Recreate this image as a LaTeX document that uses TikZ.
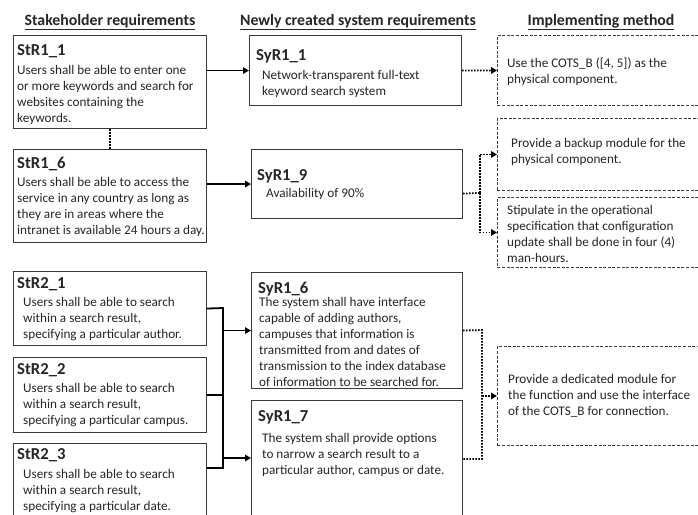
\documentclass[tikz,border=0pt]{standalone}
\usepackage{fontspec}
\setmainfont{Carlito}
\usetikzlibrary{arrows.meta,calc}
\definecolor{ink}{HTML}{262626}
\definecolor{edge}{HTML}{3A3A3A}
\begin{document}
\begin{tikzpicture}[x=1pt,y=-1pt,
  box/.style={draw=edge,line width=1.1pt,anchor=north west,inner sep=0pt},
  planbox/.style={draw=edge,line width=0.9pt,dash pattern=on 3pt off 1.6pt,anchor=north west,inner sep=0pt},
  head/.style={anchor=base,inner sep=0pt,text=ink,font=\fontsize{15.8}{18}\selectfont\bfseries},
  title/.style={anchor=base west,inner sep=0pt,text=ink,font=\fontsize{16.7}{19}\selectfont\bfseries},
  % multi-line text is placed by the baseline of its last line
  body/.style={anchor=base west,inner sep=0pt,align=left,text=ink,font=\fontsize{13.2}{16}\selectfont},
  conn/.style={draw=black,line width=1.8pt},
  arr/.style={conn,-{Triangle[length=6pt,width=6.5pt]}},
  dotted line/.style={draw=black,line width=1.8pt,dash pattern=on 1.6pt off 1.4pt},
  dotarr/.style={dotted line,-{Triangle[length=6pt,width=6.5pt]}}]
\clip (0,0) rectangle (698,514);
\fill[white] (0,0) rectangle (698,514);

% column headings
\node[head] (h1) at (110,25) {\underline{Stakeholder requirements}};
\node[head] (h2) at (358,25) {\underline{Newly created system requirements}};
\node[head] (h3) at (601,25) {\underline{Implementing method}};

% stakeholder requirements
\node[box,minimum width=193pt,minimum height=93pt] (str11) at (13,35) {};
\node[title] (str11t) at (17,55) {StR1\_1};
\node[body] (str11b) at (17,122) {Users shall be able to enter one\\or more keywords and search for\\websites containing the\\keywords.};

\node[box,minimum width=193pt,minimum height=93pt] (str16) at (13,149) {};
\node[title] (str16t) at (17,168) {StR1\_6};
\node[body] (str16b) at (17,234) {Users shall be able to access the\\service in any country as long as\\they are in areas where the\\intranet is available 24 hours a day.};

\node[box,minimum width=193pt,minimum height=74pt] (str21) at (13,271) {};
\node[title] (str21t) at (17,288) {StR2\_1};
\node[body] (str21b) at (23,338) {Users shall be able to search\\within a search result,\\specifying a particular author.};

\node[box,minimum width=193pt,minimum height=75pt] (str22) at (13,357) {};
\node[title] (str22t) at (17,374) {StR2\_2};
\node[body] (str22b) at (23,424) {Users shall be able to search\\within a search result,\\specifying a particular campus.};

\node[box,minimum width=193pt,minimum height=90pt] (str23) at (13,443) {};
\node[title] (str23t) at (17,459) {StR2\_3};
\node[body] (str23b) at (23,510) {Users shall be able to search\\within a search result,\\specifying a particular date.};

% system requirements
\node[box,minimum width=212pt,minimum height=70pt] (syr11) at (249,35) {};
\node[title] (syr11t) at (256,60) {SyR1\_1};
\node[body] (syr11b) at (262,95) {Network-transparent full-text\\keyword search system};

\node[box,minimum width=211pt,minimum height=69pt] (syr19) at (251,149) {};
\node[title] (syr19t) at (257,180) {SyR1\_9};
\node[body] (syr19b) at (266,197) {Availability of 90\%};

\node[box,minimum width=211pt,minimum height=116pt] (syr16) at (251,272) {};
\node[title] (syr16t) at (258,293) {SyR1\_6};
\node[body] (syr16b) at (259,386) {The system shall have interface\\capable of adding authors,\\campuses that information is\\transmitted from and dates of\\transmission to the index database\\of information to be searched for.};

\node[box,minimum width=211pt,minimum height=130pt] (syr17) at (251,400) {};
\node[title] (syr17t) at (258,421) {SyR1\_7};
\node[body] (syr17b) at (262,474) {The system shall provide options\\to narrow a search result to a\\particular author, campus or date.};

% implementing methods
\node[planbox,minimum width=215pt,minimum height=70pt] (im1) at (497,35) {};
\node[body] (im1b) at (507,83) {Use the COTS\_B ([4, 5]) as the\\physical component.};

\node[planbox,minimum width=215pt,minimum height=72pt] (im2) at (497,118) {};
\node[body] (im2b) at (511,163) {Provide a backup module for the\\physical component.};

\node[planbox,minimum width=215pt,minimum height=70pt] (im3) at (497,197) {};
\node[body] (im3b) at (507,262) {Stipulate in the operational\\specification that configuration\\update shall be done in four (4)\\man-hours.};

\node[planbox,minimum width=215pt,minimum height=99pt] (im4) at (497,346) {};
\node[body] (im4b) at (508,415) {Provide a dedicated module for\\the function and use the interface\\of the COTS\_B for connection.};

% stakeholder to system requirement links
\draw[dotted line] (str11.south) -- (str16.north);
\draw[arr] (str11.east |- syr11.west) -- (syr11.west);
\draw[arr] (str16.east |- syr19.west) -- (syr19.west);

\coordinate (b1) at (223,308);
\coordinate (b3) at (223,468);
\draw[conn,line join=miter] (str21.east) -- (b1) -- (b3) -- ($(str23.north east)+(0,25)$);
\draw[conn] (str22.east) -- (str22.east -| b1);
\draw[arr] (syr16.west -| b1) -- (syr16.west);
\draw[arr] ($(syr17.north west)+(0,58)$) ++(-28,0) -- ($(syr17.north west)+(0,58)$);

% system requirement to implementing method links
\draw[dotarr] (syr11.east) -- (im1.west);

\coordinate (j9) at (480,193);
\draw[dotted line] ($(syr19.east)+(0,9.5)$) -- (j9);
\draw[dotarr] (j9) |- (im2.west);
\draw[dotarr] (j9) |- (im3.west);

\coordinate (d1) at (482,330);
\coordinate (d2) at (482,459);
\draw[dotted line] (syr16.east) -- (d1) -- (d2) -- ($(syr17.north east)+(0,59)$);
\draw[dotarr] (im4.west -| d1) -- (im4.west);
\end{tikzpicture}
\end{document}
